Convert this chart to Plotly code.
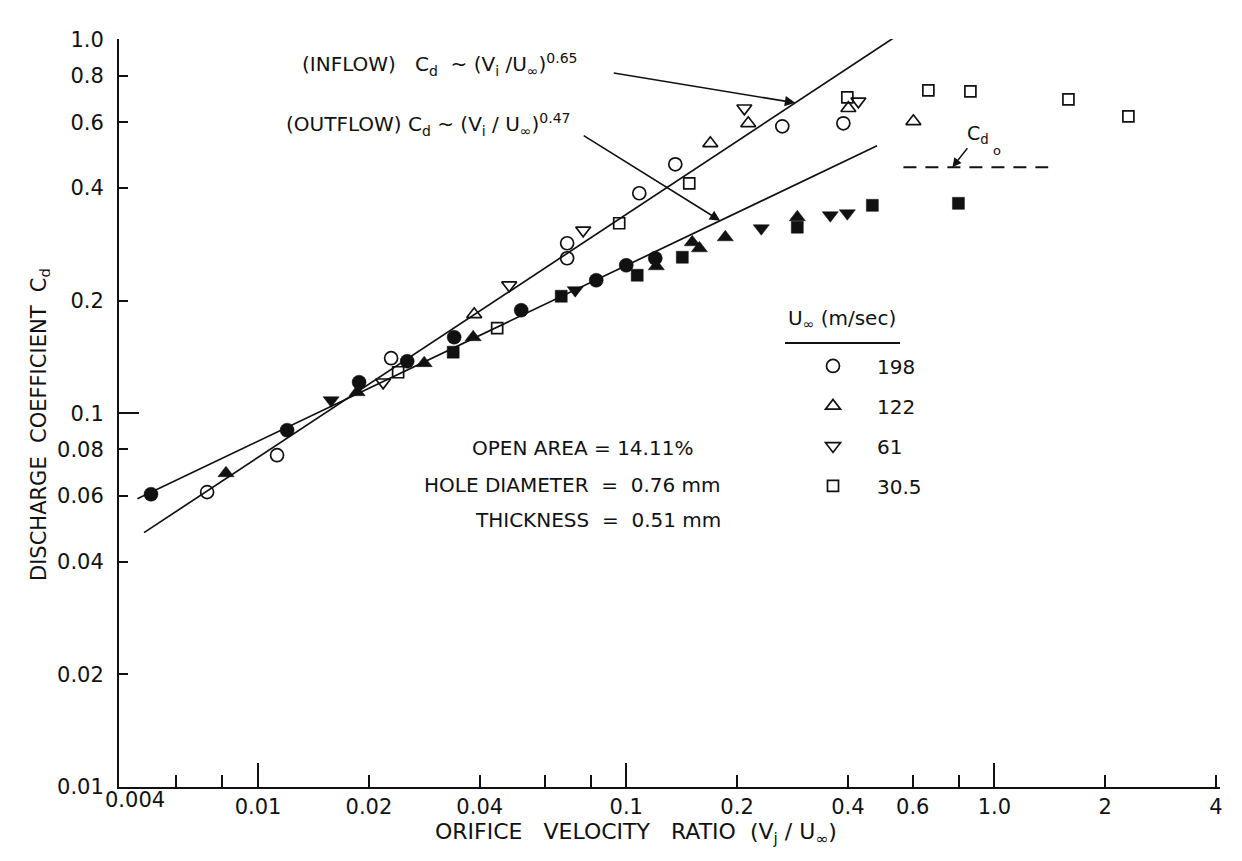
import numpy as np
import plotly.graph_objects as go

INK = "#111111"
FONT = "DejaVu Sans"

# Free-stream velocities U_inf (m/sec) and their marker symbols
VELOCITIES = ["198", "122", "61", "30.5"]
SYMBOLS = ["circle", "triangle-up", "triangle-down", "square"]
SIZES = [13, 13, 13, 11]

# Inflow readings (open symbols): orifice velocity ratio Vj/U_inf and C_d
IN_198_X = [0.00727, 0.01126, 0.02298, 0.0691, 0.0691, 0.1085, 0.1359, 0.2654, 0.3888]
IN_198_Y = [0.0615, 0.0772, 0.1403, 0.2848, 0.2597, 0.3876, 0.4632, 0.5853, 0.5963]
IN_122_X = [0.03864, 0.1692, 0.2145, 0.4012, 0.6025]
IN_122_Y = [0.1839, 0.5272, 0.5963, 0.6542, 0.6036]
IN_61_X = [0.02186, 0.04809, 0.07639, 0.2093, 0.4271]
IN_61_Y = [0.121, 0.22, 0.3085, 0.6542, 0.6827]
IN_30_X = [0.02401, 0.04461, 0.0957, 0.1483, 0.3986, 0.6617, 0.8606, 1.589, 2.312]
IN_30_Y = [0.1287, 0.1688, 0.3222, 0.412, 0.6998, 0.7306, 0.726, 0.6909, 0.6224]

# Outflow readings (filled symbols)
OUT_198_X = [0.005119, 0.01199, 0.01881, 0.02541, 0.03409, 0.05185, 0.08289, 0.1, 0.1199]
OUT_198_Y = [0.0607, 0.09005, 0.121, 0.1377, 0.1597, 0.1886, 0.2268, 0.2487, 0.2597]
OUT_122_X = [0.00818, 0.01858, 0.02826, 0.03839, 0.1207, 0.1511, 0.158, 0.1858, 0.2915]
OUT_122_Y = [0.0691, 0.1138, 0.1361, 0.1597, 0.2472, 0.2866, 0.2761, 0.2955, 0.3343]
OUT_61_X = [0.01579, 0.07269, 0.2327, 0.3583, 0.3986]
OUT_61_Y = [0.1083, 0.2133, 0.3124, 0.3384, 0.3426]
OUT_30_X = [0.03388, 0.06659, 0.1071, 0.142, 0.2915, 0.4662, 0.7985]
OUT_30_Y = [0.1456, 0.2055, 0.2339, 0.2613, 0.3144, 0.3598, 0.3643]

# Power-law correlations C_d = k (Vj/U_inf)^n and the span over which they are drawn
INFLOW_COEF, INFLOW_EXP = 1.52, 0.65
INFLOW_SPAN = [0.0049, 0.65]
OUTFLOW_COEF, OUTFLOW_EXP = 0.733, 0.47
OUTFLOW_SPAN = [0.0047, 0.48]

# Asymptotic discharge coefficient C_do
CDO = 0.455
CDO_SPAN = [0.566, 1.40]

# Axis ticks
X_RANGE = [0.00419, 4.1]
X_TICKS = [0.01, 0.02, 0.04, 0.1, 0.2, 0.4, 0.6, 1, 2, 4]
X_TICK_TEXT = ["0.01", "0.02", "0.04", "0.1", "0.2", "0.4", "0.6", "1.0", "2", "4"]
X_MINOR = [0.006, 0.008, 0.06, 0.08, 0.8]
X_MAJOR = [0.01, 0.1, 1]
Y_RANGE = [0.01, 1.0]
Y_TICKS = [0.01, 0.02, 0.04, 0.06, 0.08, 0.1, 0.2, 0.4, 0.6, 0.8, 1.0]
Y_TICK_TEXT = ["0.01", "0.02", "0.04", "0.06", "0.08", "0.1", "0.2", "0.4", "0.6", "0.8", "1.0"]
Y_MAJOR = [0.1, 1.0]

inflow = [(IN_198_X, IN_198_Y), (IN_122_X, IN_122_Y), (IN_61_X, IN_61_Y), (IN_30_X, IN_30_Y)]
outflow = [(OUT_198_X, OUT_198_Y), (OUT_122_X, OUT_122_Y), (OUT_61_X, OUT_61_Y), (OUT_30_X, OUT_30_Y)]

fig = go.Figure()


def power_law(k, n, xs):
    return [k * x ** n for x in xs]


# correlation lines and the C_do asymptote
fig.add_trace(go.Scatter(x=INFLOW_SPAN, y=power_law(INFLOW_COEF, INFLOW_EXP, INFLOW_SPAN),
                         mode="lines", line=dict(color=INK, width=1.7), showlegend=False, hoverinfo="skip"))
fig.add_trace(go.Scatter(x=OUTFLOW_SPAN, y=power_law(OUTFLOW_COEF, OUTFLOW_EXP, OUTFLOW_SPAN),
                         mode="lines", line=dict(color=INK, width=1.7), showlegend=False, hoverinfo="skip"))
fig.add_trace(go.Scatter(x=CDO_SPAN, y=[CDO, CDO], mode="lines",
                         line=dict(color=INK, width=2, dash="13px,9px"), showlegend=False, hoverinfo="skip"))

for name, sym, size, (xs, ys) in zip(VELOCITIES, SYMBOLS, SIZES, inflow):
    fig.add_trace(go.Scatter(x=xs, y=ys, mode="markers", name=name, legendgroup=name,
                             marker=dict(symbol=sym + "-open", size=size, color=INK,
                                         line=dict(width=1.7, color=INK))))
for name, sym, size, (xs, ys) in zip(VELOCITIES, SYMBOLS, SIZES, outflow):
    fig.add_trace(go.Scatter(x=xs, y=ys, mode="markers", name=name, legendgroup=name, showlegend=False,
                             marker=dict(symbol=sym, size=size + 1, color=INK,
                                         line=dict(width=0.5, color=INK))))

# empty trace carrying the overlay axes that hold the long decade ticks
fig.add_trace(go.Scatter(x=[], y=[], xaxis="x2", yaxis="y2", showlegend=False, hoverinfo="skip"))

lx = [np.log10(v) for v in X_RANGE]
ly = [np.log10(Y_RANGE[0]), np.log10(Y_RANGE[1]) + 0.001]
tickfont = dict(family=FONT, size=21, color=INK)

fig.update_layout(
    width=1242, height=861, autosize=False,
    margin=dict(l=119, r=22, t=39, b=74),
    paper_bgcolor="white", plot_bgcolor="white",
    font=dict(family=FONT, color=INK),
    xaxis=dict(type="log", range=lx, tickvals=X_TICKS, ticktext=X_TICK_TEXT,
               ticks="inside", ticklen=12, tickwidth=1.6, tickcolor=INK,
               minor=dict(tickvals=X_MINOR, ticks="inside", ticklen=12, tickwidth=1.6,
                          tickcolor=INK, showgrid=False),
               showline=True, linecolor=INK, linewidth=2, showgrid=False, zeroline=False,
               tickfont=tickfont, ticklabelstandoff=0),
    yaxis=dict(type="log", range=ly, tickvals=Y_TICKS, ticktext=Y_TICK_TEXT,
               ticks="inside", ticklen=9, tickwidth=1.6, tickcolor=INK,
               showline=True, linecolor=INK, linewidth=2, showgrid=False, zeroline=False,
               tickfont=tickfont, ticklabelstandoff=9),
    xaxis2=dict(type="log", range=lx, overlaying="x", anchor="y2", side="bottom",
                tickvals=X_MAJOR, ticks="inside", ticklen=24, tickwidth=1.8, tickcolor=INK,
                showticklabels=False, showline=False, showgrid=False, zeroline=False),
    yaxis2=dict(type="log", range=ly, overlaying="y", anchor="x2", side="left",
                tickvals=Y_MAJOR, ticks="inside", ticklen=20, tickwidth=1.8, tickcolor=INK,
                showticklabels=False, showline=False, showgrid=False, zeroline=False),
    legend=dict(x=(789 - 119) / 1101, y=0.589, xanchor="left", yanchor="top", bgcolor="rgba(0,0,0,0)",
                font=dict(family=FONT, size=20, color=INK), tracegroupgap=11, itemwidth=78),
    showlegend=True,
)


def paper_x(px):
    return (px - 119) / 1101


def paper_y(py):
    return (787 - py) / 748


SP = "\u00a0"
notes = [
    # x-axis title and the corner label of the velocity-ratio axis
    dict(text=f"ORIFICE{SP*3}VELOCITY{SP*3}RATIO{SP*2}(V<sub>j</sub> / U<sub>∞</sub>)", x=paper_x(636), y=paper_y(833),
         size=22, xanchor="center"),
    dict(text="0.004", x=paper_x(135), y=paper_y(800), size=21, xanchor="center"),
    # correlation labels
    dict(text=f"(INFLOW){SP*3}C<sub>d</sub>{SP*2}~ (V<sub>i</sub> /U<sub>∞</sub>)<sup>0.65</sup>",
         x=paper_x(300), y=paper_y(64), size=20, xanchor="left"),
    dict(text=f"(OUTFLOW) C<sub>d</sub>{SP}~ (V<sub>i</sub> / U<sub>∞</sub>)<sup>0.47</sup>",
         x=paper_x(284), y=paper_y(124), size=20, xanchor="left"),
    # test conditions
    dict(text="OPEN AREA = 14.11%", x=paper_x(695), y=paper_y(448), size=20, xanchor="right"),
    dict(text=f"HOLE DIAMETER{SP*2}={SP*2}0.76 mm", x=paper_x(723), y=paper_y(485), size=20, xanchor="right"),
    dict(text=f"THICKNESS{SP*2}={SP*2}0.51 mm", x=paper_x(723), y=paper_y(520), size=20, xanchor="right"),
    # legend header
    dict(text="U<sub>∞</sub> (m/sec)", x=paper_x(786), y=paper_y(319), size=20, xanchor="left"),
    dict(text="o", x=paper_x(997), y=paper_y(150), size=13, xanchor="center"),
]
for n in notes:
    fig.add_annotation(text=n["text"], x=n["x"], y=n["y"], xref="paper", yref="paper",
                       xanchor=n["xanchor"], yanchor="middle", showarrow=False,
                       font=dict(family=FONT, size=n["size"], color=INK))

fig.add_annotation(text=f"DISCHARGE{SP*2}COEFFICIENT{SP*2}C<sub>d</sub>", x=paper_x(25), y=paper_y(425),
                   xref="paper", yref="paper", textangle=-90, showarrow=False,
                   font=dict(family=FONT, size=21, color=INK))

# underline below the legend header
fig.add_shape(type="line", xref="paper", yref="paper", x0=paper_x(785), x1=paper_x(900),
              y0=paper_y(343), y1=paper_y(343), line=dict(color=INK, width=2))

# arrows from the labels to the correlation lines
in_head = 0.2878
out_head = 0.180
fig.add_annotation(x=np.log10(in_head), y=np.log10(INFLOW_COEF * in_head ** INFLOW_EXP),
                   xref="x", yref="y", text="", showarrow=True, ax=-183, ay=-30,
                   arrowhead=2, arrowsize=1.3, arrowwidth=1.6, arrowcolor=INK)
fig.add_annotation(x=np.log10(out_head), y=np.log10(OUTFLOW_COEF * out_head ** OUTFLOW_EXP),
                   xref="x", yref="y", text="", showarrow=True, ax=-138, ay=-86,
                   arrowhead=2, arrowsize=1.3, arrowwidth=1.6, arrowcolor=INK)
# C_do pointer onto the dashed asymptote
fig.add_annotation(x=np.log10(0.769), y=np.log10(CDO), xref="x", yref="y",
                   text="C<sub>d</sub>", showarrow=True, ax=26, ay=-33,
                   arrowhead=2, arrowsize=1.2, arrowwidth=1.5, arrowcolor=INK,
                   font=dict(family=FONT, size=19, color=INK))

fig.write_html("out.html")
